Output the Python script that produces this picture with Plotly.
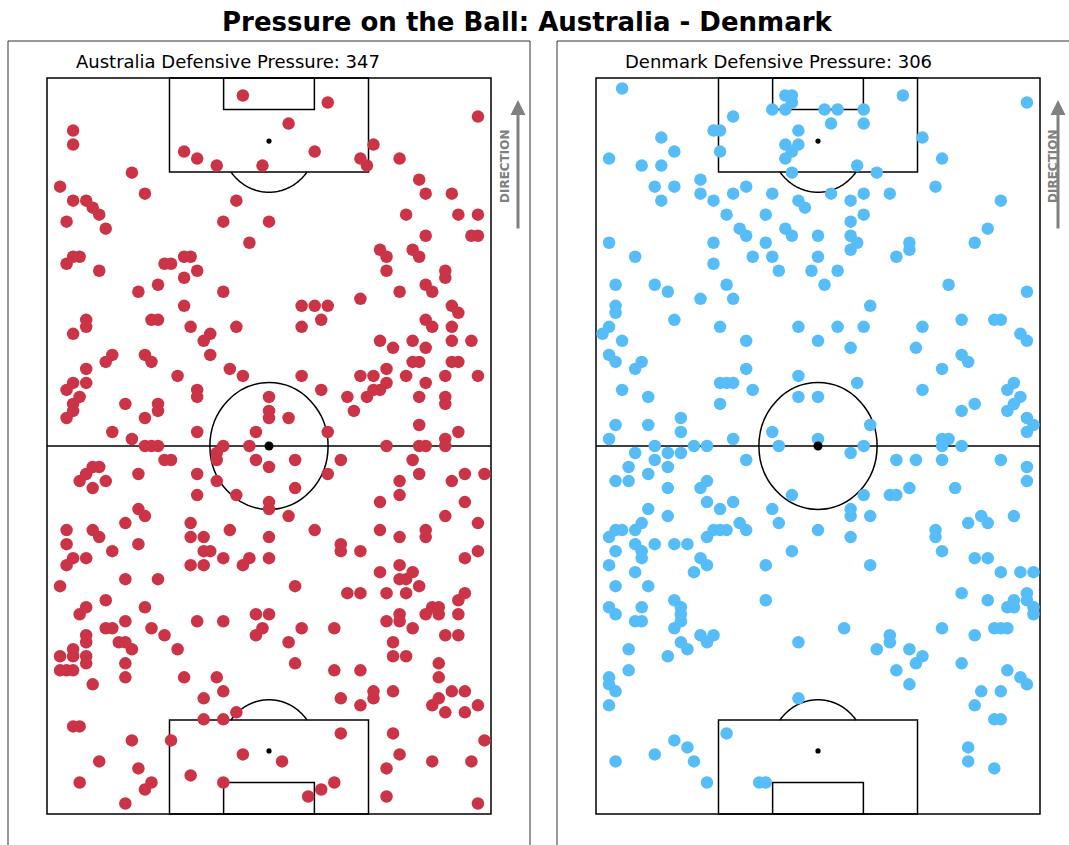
import numpy as np
import plotly.graph_objects as go

# ---------------------------------------------------------------- data
# Pressure locations on a 68 x 105 pitch (x across the pitch, y along it,
# attacking upwards).  One entry per pressure event.
AUS_X = [
    30, 43, 66, 37, 4, 4, 50, 21, 41, 23, 48, 54, 26, 33, 49, 13, 57, 2, 15, 58, 62,
    4, 6, 7, 8, 29, 3, 9, 27, 34, 55, 63, 66, 58, 65, 66, 31, 4, 5, 3, 8, 18, 19, 21, 22, 23,
    21, 17, 14, 27, 51, 52, 56, 57, 52, 61, 61, 58, 59, 54, 48, 21, 39, 41, 43, 42, 62, 63, 6, 16, 17, 58,
    6, 4, 22, 29, 39, 25, 24, 25, 59, 62, 51, 53, 56, 58, 62, 65, 10, 9, 15, 16,
    6, 20, 28, 30, 39, 56, 57, 62, 63, 52, 48, 50, 55, 61, 66, 4, 6, 3, 5, 4,
    4, 3, 23, 23, 12, 17, 17, 15, 34, 34, 34, 37, 42, 52, 58, 50, 51, 46, 49, 57,
    61, 61, 47, 57, 10, 13, 23, 32, 43, 63, 61,
    15, 16, 17, 27, 31, 52, 57, 58, 61, 26, 18, 19, 26, 32, 38, 45, 56, 7, 8, 34,
    6, 14, 23, 43, 57, 64, 67, 5, 9, 26, 54, 62, 7, 38, 23, 29, 54, 34, 51, 64,
    34, 14, 15, 37, 61, 12, 22, 66, 3, 7, 28, 41, 51, 58, 8, 22, 24, 34, 54, 58,
    3, 14, 45, 10, 24, 25, 45, 48, 66, 4, 6, 27, 31, 34, 64, 3, 22, 24, 30, 54,
    51, 54, 56, 55, 12, 17, 2, 38, 57, 46, 48, 52, 55, 64, 9, 63, 6, 15, 59, 60,
    5, 32, 34, 54, 58, 60, 63, 12, 23, 27, 52, 54, 9, 10, 16, 33, 39, 44, 56, 6,
    18, 32, 61, 63, 6, 11, 12, 37, 53, 4, 13, 20, 2, 4, 6, 53, 55, 6, 12, 38,
    60, 2, 3, 4, 44, 48, 12, 21, 26, 60, 7,
    27, 50, 53, 62, 64, 24, 45, 50, 60, 48, 59, 66, 29, 61, 64, 24, 27, 4, 5, 45,
    53, 13, 19, 67, 30, 54, 8, 36, 59, 65, 14, 52, 22, 5, 16, 27, 44, 15, 42, 40,
    52, 12, 66,
]
AUS_Y = [
    102, 101, 99, 98, 97, 95, 95, 94, 94, 93, 93, 93, 92, 92, 92, 91, 90, 89, 88, 88, 88,
    87, 87, 86, 85, 87, 84, 83, 84, 84, 85, 85, 85, 82, 82, 82, 81, 79, 79, 78, 77, 78, 78, 79, 79, 77,
    76, 75, 74, 74, 80, 79, 80, 79, 77, 77, 76, 75, 74, 74, 73, 72, 72, 72, 72, 70, 72, 71, 70, 70, 70, 70,
    69, 68, 69, 69, 69, 68, 67, 65, 69, 69, 67, 66, 67, 66, 67, 67, 65, 64, 65, 64,
    63, 62, 63, 62, 62, 64, 64, 64, 64, 63, 62, 62, 62, 62, 62, 61, 61, 60, 59, 58,
    57, 56, 60, 59, 58, 58, 57, 56, 59, 57, 56, 56, 60, 61, 61, 60, 60, 59, 59, 59,
    59, 58, 57, 55, 54, 53, 54, 54, 54, 54, 53,
    52, 52, 52, 52, 52, 52, 52, 52, 52, 51, 50, 50, 50, 50, 50, 50, 50, 49, 49, 49,
    48, 48, 48, 48, 48, 48, 48, 47, 47, 47, 47, 47, 46, 46, 45, 45, 45, 44, 44, 44,
    43, 43, 42, 42, 42, 41, 41, 41, 40, 40, 40, 40, 40, 40, 39, 39, 39, 39, 39, 39,
    38, 38, 38, 37, 37, 37, 37, 37, 37, 36, 36, 36, 36, 36, 36, 35, 35, 35, 35, 35,
    34, 33, 34, 33, 33, 33, 32, 32, 32, 31, 31, 31, 31, 31, 30, 30, 29, 29, 29, 29,
    28, 28, 28, 28, 28, 28, 28, 27, 27, 27, 27, 27, 26, 26, 26, 26, 26, 26, 26, 25,
    25, 25, 25, 25, 24, 24, 24, 24, 24, 23, 23, 23, 22, 22, 22, 22, 22, 21, 21, 21,
    21, 20, 20, 20, 20, 20, 19, 19, 19, 19, 18,
    17, 17, 17, 17, 17, 16, 16, 16, 16, 15, 15, 15, 14, 14, 14, 13, 13, 12, 12, 11,
    11, 10, 10, 10, 8, 8, 7, 7, 7, 7, 6, 6, 5, 4, 4, 4, 4, 3, 3, 2,
    2, 1, 1,
]
DEN_X = [
    4, 29, 30, 30, 47, 66, 27, 29, 35, 37, 41, 21, 36, 41, 18, 19, 31, 10, 50, 29,
    31, 12, 19, 30, 2, 29, 53, 7, 10, 40, 30, 43, 16, 9, 12, 23, 52, 16, 21, 27,
    36, 41, 45,
    10, 18, 31, 32, 39, 62, 20, 26, 41, 39, 22, 23, 29, 30, 34, 39, 40, 39, 60, 58,
    2, 18, 26, 48, 48, 6, 24, 27, 34, 46, 18, 28, 33, 37, 3, 9, 20, 35, 54, 11,
    66, 16, 21, 3, 42, 3, 12, 56, 61, 62,
    2, 1, 4, 19, 31, 37, 41, 50, 23, 34, 39, 49, 65, 66, 2, 3, 7, 6, 23, 56,
    57, 53, 31, 19, 20, 21, 40, 64, 4, 24, 50, 63, 8, 31, 34, 65, 19, 58, 64, 56,
    63, 13, 66, 3, 8, 42, 67, 13, 27, 66, 2, 21, 34, 53, 54,
    9, 15, 17, 28, 41, 53, 56, 6, 11, 13, 39, 9, 23, 46, 49, 53, 62, 5, 11, 66,
    8, 3, 5, 17, 66, 11, 16, 48, 55, 30, 41, 45, 46, 17, 21, 8, 19, 27, 39, 11,
    39, 42, 59, 64, 7, 22, 28, 57, 60, 3, 4, 6, 18, 19, 20, 23, 34, 52, 2, 17,
    39, 52, 6, 9, 12, 14, 3, 7, 30, 53, 7, 16, 58, 60, 2, 17, 26, 42,
    6, 15, 62, 65, 67, 3, 8, 56, 66, 12, 26, 60, 64, 66, 2, 7, 13, 63, 64, 67,
    3, 13, 67, 6, 7, 13, 12, 38, 53, 61, 62, 63, 16, 18, 45, 58, 13, 17, 31, 45,
    5, 14, 43, 48, 11, 50, 49, 56, 5, 46, 63, 2, 65, 2, 48, 66,
    3, 59, 62, 2, 31, 58, 61, 62, 20, 12, 14, 57, 9, 3, 15, 57, 61, 17, 25, 26,
]
DEN_Y = [
    103, 102, 102, 101, 102, 101, 100, 100, 100, 100, 100, 99, 98, 98, 97, 97, 97, 96, 96, 95,
    95, 94, 94, 94, 93, 93, 93, 92, 92, 92, 91, 91, 90, 89, 89, 89, 89, 88, 88, 88,
    88, 88, 88,
    87, 87, 87, 86, 87, 87, 85, 85, 85, 84, 83, 82, 83, 82, 82, 82, 81, 80, 83, 81,
    81, 81, 81, 81, 80, 79, 79, 79, 79, 79, 78, 77, 77, 77, 75, 75, 75, 75, 75, 74,
    74, 73, 73, 72, 72, 71, 70, 70, 70, 70,
    69, 68, 67, 69, 69, 69, 69, 69, 67, 67, 66, 66, 68, 67, 65, 64, 64, 63, 63, 65,
    64, 63, 62, 61, 61, 61, 61, 61, 60, 60, 60, 60, 59, 59, 59, 59, 58, 58, 58, 57,
    57, 56, 56, 55, 55, 55, 55, 54, 54, 54, 53, 53, 53, 53, 53,
    52, 52, 52, 52, 52, 52, 52, 51, 51, 51, 51, 50, 50, 50, 50, 50, 50, 49, 49, 49,
    48, 47, 47, 47, 47, 46, 46, 46, 46, 45, 45, 45, 45, 44, 44, 43, 43, 43, 43, 42,
    42, 42, 42, 42, 41, 41, 41, 41, 41, 40, 40, 40, 40, 40, 40, 40, 40, 40, 39, 39,
    39, 39, 38, 38, 38, 38, 37, 37, 37, 37, 36, 36, 36, 36, 35, 35, 35, 35,
    34, 34, 34, 34, 34, 32, 32, 31, 31, 30, 30, 30, 30, 30, 29, 29, 29, 29, 29, 29,
    28, 28, 28, 27, 27, 27, 26, 26, 26, 26, 26, 26, 25, 25, 25, 25, 24, 24, 24, 24,
    23, 23, 23, 23, 22, 22, 21, 21, 20, 20, 20, 19, 19, 18, 18, 18,
    17, 17, 17, 15, 16, 15, 13, 13, 11, 10, 9, 9, 8, 7, 7, 7, 6, 4, 4, 4,
]
TEAMS = ["Australia", "Denmark"]
TOTALS = [347, 306]
COLORS = ["#CB3447", "#57BDF8"]

# ---------------------------------------------------------------- page layout
W, H = 1069, 845
PITCH_W, Y_LO, Y_HI = 68.0, -0.5, 104.5      # touchlines / goal lines
PITCH_LEFT_PX = [47, 596]                     # left touchline of each pitch
PITCH_SPAN_PX = 444
PITCH_TOP_PX, PITCH_BOT_PX = 78, 814

sx = PITCH_SPAN_PX / PITCH_W
sy = (PITCH_BOT_PX - PITCH_TOP_PX) / (Y_HI - Y_LO)
DOMAINS = [[0.0, 0.5], [0.5, 1.0]]

fig = go.Figure()

for i, (xs, ys) in enumerate([(AUS_X, AUS_Y), (DEN_X, DEN_Y)]):
    fig.add_trace(go.Scatter(
        x=xs, y=ys, mode="markers",
        marker=dict(size=12.5, color=COLORS[i], line=dict(width=0)),
        xaxis="x" if i == 0 else "x2", yaxis="y" if i == 0 else "y2",
        showlegend=False, hoverinfo="skip",
    ))

axis_style = dict(showgrid=False, zeroline=False, showticklabels=False,
                  ticks="", showline=False, fixedrange=True)
layout_axes = {}
for i in range(2):
    d0, d1 = DOMAINS[i]
    p0, p1 = d0 * W, d1 * W
    xr = [(p0 - PITCH_LEFT_PX[i]) / sx, (p1 - PITCH_LEFT_PX[i]) / sx]
    yr = [Y_LO - (H - PITCH_BOT_PX) / sy, Y_HI + PITCH_TOP_PX / sy]
    sfx = "" if i == 0 else "2"
    layout_axes["xaxis" + sfx] = dict(domain=[d0, d1], range=xr, anchor="y" + sfx,
                                      **axis_style)
    layout_axes["yaxis" + sfx] = dict(domain=[0, 1], range=yr, anchor="x" + sfx,
                                      **axis_style)

# ---------------------------------------------------------------- pitch markings
LINE = dict(color="black", width=1.5)
CX, CY = PITCH_W / 2, (Y_LO + Y_HI) / 2
BOX_HALF, BOX_DEPTH = 15.24, 13.4
SIX_HALF, SIX_DEPTH = 6.95, 4.5
SPOT_DIST, ARC_R, CIRCLE_R = 9.0, 7.3, 9.05


def pitch_shapes(xref, yref):
    out = []

    def rect(x0, y0, x1, y1):
        return dict(type="rect", xref=xref, yref=yref, x0=x0, y0=y0, x1=x1, y1=y1,
                    line=LINE, layer="below")

    def dot(x, y, r_px):
        rx, ry = r_px / sx, r_px / sy
        return dict(type="circle", xref=xref, yref=yref, x0=x - rx, x1=x + rx,
                    y0=y - ry, y1=y + ry, fillcolor="black", line=dict(width=0))

    out.append(rect(0, Y_LO, PITCH_W, Y_HI))
    out.append(dict(type="line", xref=xref, yref=yref, x0=0, x1=PITCH_W, y0=CY, y1=CY,
                    line=LINE, layer="below"))
    out.append(dict(type="circle", xref=xref, yref=yref, x0=CX - CIRCLE_R, x1=CX + CIRCLE_R,
                    y0=CY - CIRCLE_R, y1=CY + CIRCLE_R, line=LINE, layer="below"))
    out.append(dot(CX, CY, 4.5))
    for top in (True, False):
        goal = Y_HI if top else Y_LO
        sgn = -1 if top else 1
        out.append(rect(CX - BOX_HALF, goal, CX + BOX_HALF, goal + sgn * BOX_DEPTH))
        out.append(rect(CX - SIX_HALF, goal, CX + SIX_HALF, goal + sgn * SIX_DEPTH))
        spot_y = goal + sgn * SPOT_DIST
        out.append(dot(CX, spot_y, 2.6))
        # penalty arc: the part of the circle round the spot outside the box
        a = np.arcsin((BOX_DEPTH - SPOT_DIST) / ARC_R)
        th = np.linspace(a, np.pi - a, 60)
        arc_x = CX + ARC_R * np.cos(th)
        arc_y = spot_y + sgn * ARC_R * np.sin(th)
        path = "M " + " L ".join(f"{u:.3f},{v:.3f}" for u, v in zip(arc_x, arc_y))
        out.append(dict(type="path", xref=xref, yref=yref, path=path, line=LINE,
                        layer="below"))
    return out


shapes = pitch_shapes("x", "y") + pitch_shapes("x2", "y2")

# panel frames
FRAMES_PX = [(8, 530), (557, 1080)]
for x0, x1 in FRAMES_PX:
    shapes.append(dict(type="rect", xref="paper", yref="paper", x0=x0 / W, x1=x1 / W,
                       y0=-0.05, y1=1 - 41 / H, line=dict(color="#333333", width=1),
                       layer="above"))

# ---------------------------------------------------------------- text
annotations = [dict(
    text="Pressure on the Ball: Australia - Denmark", x=527 / W, y=1 - 22 / H,
    xref="paper", yref="paper", showarrow=False, xanchor="center", yanchor="middle",
    font=dict(family="DejaVu Sans", size=26, color="black", weight="bold"),
)]
SUB_LEFT_PX = [74, 623]
ARROW_X_PX = [518, 1058]
LABEL_X_PX = [505, 1053]
for i in range(2):
    annotations.append(dict(
        text=f"{TEAMS[i]} Defensive Pressure: {TOTALS[i]}", x=SUB_LEFT_PX[i] / W,
        y=1 - 62 / H, xref="paper", yref="paper", showarrow=False,
        xanchor="left", yanchor="middle",
        font=dict(family="DejaVu Sans", size=18, color="black"),
    ))
    annotations.append(dict(
        text="", x=ARROW_X_PX[i] / W, y=1 - 100 / H, xref="paper", yref="paper",
        ax=0, ay=130, showarrow=True, arrowhead=2, arrowsize=1, arrowwidth=3,
        arrowcolor="#808080",
    ))
    annotations.append(dict(
        text="DIRECTION", x=LABEL_X_PX[i] / W, y=1 - 166 / H,
        xref="paper", yref="paper", showarrow=False, textangle=-90,
        xanchor="center", yanchor="middle",
        font=dict(family="DejaVu Sans", size=12, color="#808080", weight="bold"),
    ))

fig.update_layout(
    width=W, height=H, margin=dict(l=0, r=0, t=0, b=0),
    paper_bgcolor="white", plot_bgcolor="white",
    shapes=shapes, annotations=annotations, **layout_axes,
)

fig.write_html("out.html")
